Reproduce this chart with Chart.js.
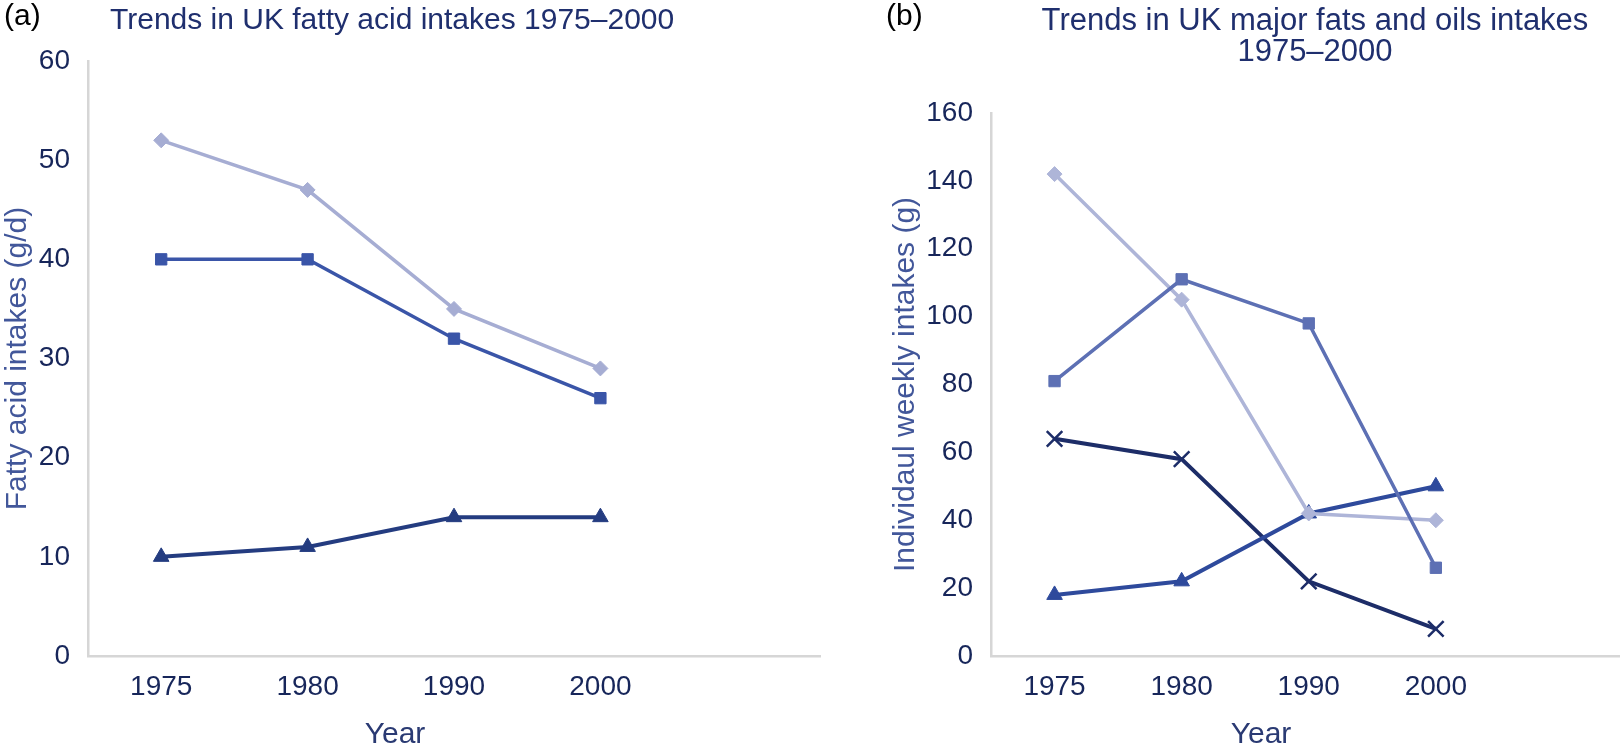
<!DOCTYPE html>
<html>
<head>
<meta charset="utf-8">
<script src="https://cdn.jsdelivr.net/npm/chart.js@4.4.1/dist/chart.umd.min.js"></script>
<style>
html, body { margin: 0; padding: 0; width: 1620px; height: 748px; overflow: hidden; background: #fff; }
body { position: relative; font-family: "Liberation Sans", Arial, sans-serif; }
canvas { position: absolute; top: 0; }
.txt { position: absolute; white-space: nowrap; line-height: 1; }
</style>
</head>
<body>
<canvas id="chartA" width="830" height="748" style="left:0"></canvas>
<canvas id="chartB" width="790" height="748" style="left:850px"></canvas>

<div class="txt" style="left:4px;top:0;font-size:30px;color:#000">(a)</div>
<div class="txt" style="left:110px;top:4px;font-size:30px;color:#1f2f6e">Trends in UK fatty acid intakes 1975–2000</div>
<div class="txt" style="left:886px;top:0;font-size:30px;color:#000">(b)</div>
<div class="txt" style="left:1015px;top:4px;width:600px;text-align:center;font-size:31px;line-height:31px;color:#1f2f6e">Trends in UK major fats and oils intakes<br>1975–2000</div>
<div class="txt" style="left:295px;top:718px;width:200px;text-align:center;font-size:30px;color:#2a3a73">Year</div>
<div class="txt" style="left:1161px;top:718px;width:200px;text-align:center;font-size:30px;color:#2a3a73">Year</div>

<script>
// categories (last one is an empty slot, the axis runs on past 2000)
const years = ['1975', '1980', '1990', '2000', ''];

// (a) fatty acid intakes, g/d
const fatA = [52, 47, 35, 29];
const satA = [40, 40, 32, 26];
const pufaA = [10, 11, 14, 14];
const ticksA = [0, 10, 20, 30, 40, 50, 60];

// (b) fats and oils, g per week
const butterB = [142, 105, 42, 40];
const margB = [81, 111, 98, 26];
const oilB = [18, 22, 42, 50];
const lardB = [64, 58, 22, 8];
const ticksB = [0, 20, 40, 60, 80, 100, 120, 140, 160];

const tickFont = { family: '"Liberation Sans", Arial, sans-serif', size: 28 };
const tickColor = '#17265a';
const axisGrey = '#d6d6d6';

function series(data, color, style, radius, width) {
    return {
        data: data,
        borderColor: color,
        backgroundColor: color,
        borderWidth: width || 3.5,
        pointStyle: style,
        pointRadius: radius,
        pointBackgroundColor: color,
        pointBorderColor: color,
        pointBorderWidth: style === 'crossRot' ? 2.5 : 1,
        tension: 0,
        fill: false
    };
}

function makeChart(id, datasets, ticks, yTitle, o) {
    return new Chart(document.getElementById(id), {
        type: 'line',
        data: { labels: years, datasets: datasets },
        options: {
            responsive: false,
            animation: false,
            layout: { padding: { top: o.top, right: o.right, left: 0, bottom: 0 } },
            plugins: { legend: { display: false }, tooltip: { enabled: false } },
            scales: {
                x: {
                    offset: true,
                    grid: { display: false, drawTicks: false },
                    border: { color: axisGrey, width: 2.5 },
                    ticks: { font: tickFont, color: tickColor, padding: 14, maxRotation: 0, autoSkip: false },
                    afterFit: s => { s.height = 92; }
                },
                y: {
                    min: ticks[0],
                    max: ticks[ticks.length - 1],
                    grid: { display: false, drawTicks: false },
                    border: { color: axisGrey, width: 2.5 },
                    afterBuildTicks: s => { s.ticks = ticks.map(v => ({ value: v })); },
                    ticks: { font: tickFont, color: tickColor, padding: 18 },
                    title: {
                        display: true,
                        text: yTitle,
                        color: '#42579a',
                        font: { family: '"Liberation Sans", Arial, sans-serif', size: 30 },
                        padding: { top: o.titlePad, bottom: 0 }
                    },
                    afterFit: s => { s.width = o.yWidth; }
                }
            }
        }
    });
}

makeChart('chartA', [
    series(satA, '#3a55a8', 'rect', 8),
    series(fatA, '#a6add3', 'rectRot', 7.5),
    series(pufaA, '#243c80', 'triangle', 9, 4)
], ticksA, 'Fatty acid intakes (g/d)', { top: 61, right: 3.5, yWidth: 88, titlePad: 0 });

makeChart('chartB', [
    series(margB, '#5d70b4', 'rect', 8),
    series(butterB, '#aeb5d8', 'rectRot', 7.5),
    series(oilB, '#2e4a9c', 'triangle', 9, 4),
    series(lardB, '#1d2d68', 'crossRot', 11, 4)
], ticksB, 'Individaul weekly intakes (g)', { top: 113, right: 7, yWidth: 141, titlePad: 38 });
</script>
</body>
</html>
